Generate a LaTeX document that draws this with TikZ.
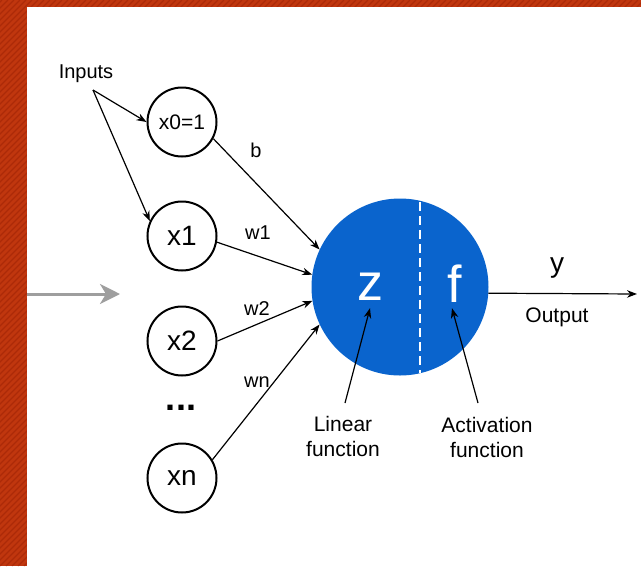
\documentclass[tikz,border=0pt]{standalone}
\usepackage{fontspec}
\setmainfont{Liberation Sans}
\usetikzlibrary{arrows.meta}
\definecolor{bgred}{RGB}{192,54,14}
\definecolor{stripered}{RGB}{172,42,8}
\definecolor{nblue}{RGB}{10,100,205}
\definecolor{garrow}{RGB}{158,158,158}
\newcommand{\myfs}[1]{\fontsize{#1}{#1}\selectfont}
\begin{document}
\begin{tikzpicture}[x=1pt,y=-1pt,
  inp/.style={circle,draw,line width=2pt,minimum size=69pt,inner sep=0pt,font=\myfs{28}},
  wlab/.style={font=\myfs{20},inner sep=0pt},
  arr/.style={line width=1.2pt,-{Stealth[length=10pt,width=7.5pt]}},
  flab/.style={font=\fontsize{21}{25}\selectfont,align=center,inner sep=0pt,anchor=north}]
\useasboundingbox (0,0) rectangle (641,566);
% background frame
\fill[bgred] (0,0) rectangle (641,566);
\begin{scope}
  \clip (0,0) rectangle (641,7) (0,0) rectangle (27,566);
  \foreach \i in {-600,-594,...,660} \draw[stripered,line width=1.4pt] (\i,566) -- (\i+566,0);
\end{scope}
\fill[white] (27,7) rectangle (641,566);

% gray arrow
\coordinate (gs) at (27,294);
\coordinate (ge) at (120,294);
\draw[garrow,line width=3pt,-{Stealth[length=20pt,width=20pt,inset=6pt]}] (gs) -- (ge);

% inputs
\node[font=\myfs{20},anchor=base,inner sep=0pt] (inputs) at (86,78) {Inputs};
\coordinate (isrc) at (93,90);

\node[inp,font=\myfs{21}] (x0) at (182,122) {x0=1};
\node[inp] (x1) at (182,236) {x1};
\node[inp] (x2) at (182,341) {x2};
\node[inp] (xn) at (182,478) {xn};
\node[font=\myfs{36}\bfseries,anchor=base,inner sep=0pt] (dots) at (181,410) {...};

% neuron
\node[circle,fill=nblue,minimum size=177pt,inner sep=0pt] (N) at (400,287) {};
\draw[white,line width=2pt,dash pattern=on 9pt off 5pt] (420,202) -- (420,373);
\node[font=\myfs{52},text=white,anchor=base,inner sep=0pt] (z) at (370,300) {z};
\node[font=\myfs{52},text=white,anchor=base,inner sep=0pt] (f) at (455,302) {f};

% input arrows
\draw[arr] (isrc) -- (x0.west);
\draw[arr] (isrc) -- (x1.155);
\draw[arr] (x0.-28) -- (N.155.7);
\draw[arr] (x1.-10) -- (N.172);
\draw[arr] (x2.east) -- (N.189.5);
\draw[arr] (xn.31) -- (N.205);

% weight labels
\node[wlab] (lb) at (256,150) {b};
\node[wlab] (lw1) at (258,233) {w1};
\node[wlab] (lw2) at (257,309) {w2};
\node[wlab] (lwn) at (257,382) {wn};

% output
\coordinate (out) at (637,294);
\draw[arr] (N.-4.5) -- (out);
\node[font=\myfs{28},anchor=base,inner sep=0pt] (ylab) at (557,272) {y};
\node[font=\myfs{21},anchor=base,inner sep=0pt] (olab) at (557,322) {Output};

% function labels
\node[flab] (lin) at (343,416) {Linear\\function};
\node[flab] (act) at (487,417) {Activation\\function};
\draw[arr] ([xshift=2pt,yshift=13pt]lin.north) -- ([yshift=-8pt]z.south);
\draw[arr] ([xshift=-9pt,yshift=14pt]act.north) -- ([xshift=-3pt,yshift=-6pt]f.south);
\end{tikzpicture}
\end{document}
